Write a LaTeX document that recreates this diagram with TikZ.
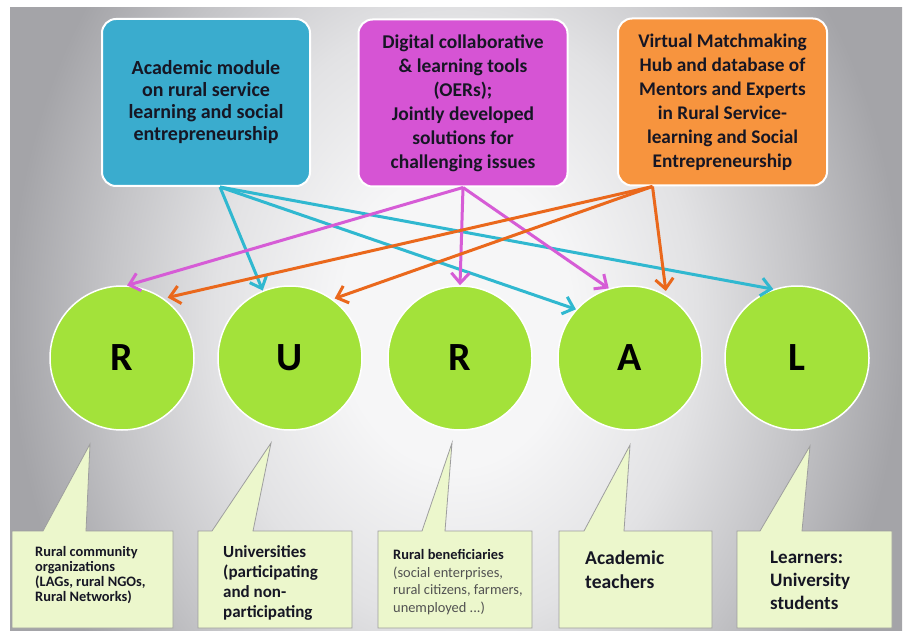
\documentclass[tikz,border=0pt]{standalone}
\usepackage{fontspec}
\setmainfont{Carlito}
\usetikzlibrary{arrows.meta}
\definecolor{boxblue}{RGB}{58,172,206}
\definecolor{boxmag}{RGB}{214,84,212}
\definecolor{boxor}{RGB}{247,148,62}
\definecolor{circ}{RGB}{163,226,58}
\definecolor{callfill}{RGB}{236,247,204}
\definecolor{acyan}{RGB}{48,184,208}
\definecolor{amag}{RGB}{214,92,214}
\definecolor{aor}{RGB}{234,104,28}
\definecolor{txt}{RGB}{22,22,36}
\definecolor{bgA}{RGB}{246,246,247}
\definecolor{bgB}{RGB}{226,226,228}
\definecolor{bgC}{RGB}{196,196,199}
\definecolor{bgD}{RGB}{164,164,168}
\pgfdeclareradialshading{bgshade}{\pgfpoint{0bp}{0bp}}{color(0bp)=(bgA); color(13bp)=(bgA); color(27bp)=(bgB); color(39bp)=(bgC); color(50bp)=(bgD); color(80bp)=(bgD)}
\tikzset{
  topbox/.style={draw=white, line width=2pt, rounded corners=14pt, minimum height=167pt, inner sep=0pt, align=center, text=txt},
  letter/.style={circle, fill=circ, draw=white, line width=1.5pt, minimum size=144pt, inner sep=0pt, font=\bfseries\fontsize{40}{40}\selectfont, text=black},
  callout/.style={fill=callfill, draw=black!38, line width=0.8pt, line join=miter},
  ctext/.style={anchor=west, align=left, inner sep=0pt, text=txt},
  arr/.style={line width=3pt, -{Straight Barb[length=10pt,width=18pt]}}
}
\begin{document}
\begin{tikzpicture}[x=1pt,y=-1pt]
\useasboundingbox (0,0) rectangle (907,631);
\begin{scope}
  \clip (10,8) rectangle (902,631);
  \pgftransformshift{\pgfpoint{456pt}{-320pt}}
  \pgftransformxscale{8.9}
  \pgftransformyscale{11.2}
  \pgflowlevelsynccm
  \pgfuseshading{bgshade}
\end{scope}

% top boxes
\node[topbox, fill=boxblue, minimum width=208pt, font=\bfseries\fontsize{20}{22}\selectfont] (acad) at (206,102.5)
  {Academic module\\on rural service\\learning and social\\entrepreneurship};
\node[topbox, fill=boxmag, minimum width=209pt, font=\bfseries\fontsize{19.5}{24}\selectfont] (tools) at (463,103)
  {Digital collaborative\\\& learning tools\\(OERs);\\Jointly developed\\solutions for\\challenging issues};
\node[topbox, fill=boxor, minimum width=209pt, font=\bfseries\fontsize{19.3}{24}\selectfont] (hub) at (722.5,102)
  {Virtual Matchmaking\\Hub and database of\\Mentors and Experts\\in Rural Service-\\learning and Social\\Entrepreneurship};

% circles
\node[letter] (c1) at (122,358) {R};
\node[letter] (c2) at (290,358) {U};
\node[letter] (c3) at (460,358) {R};
\node[letter] (c4) at (630,358) {A};
\node[letter] (c5) at (797,358) {L};

% arrows
\draw[arr, acyan] ([xshift=14pt]acad.south) -- (c2.112);
\draw[arr, acyan] ([xshift=14pt]acad.south) -- (c4.138);
\draw[arr, acyan] ([xshift=14pt]acad.south) -- (c5.109);
\draw[arr, amag] (tools.south) -- (c1.86);
\draw[arr, amag] (tools.south) -- (c3.90);
\draw[arr, amag] (tools.south) -- (c4.107);
\draw[arr, aor, shorten >=4pt] ([xshift=-70pt]hub.south) -- (c1.55);
\draw[arr, aor, shorten >=2pt] ([xshift=-70pt]hub.south) -- (c2.54);
\draw[arr, aor, shorten >=4pt] ([xshift=-70pt]hub.south) -- (c4.60);

% callouts
\path[callout] (12,531) -- (43,531) -- (90,444) -- (86,531) -- (173,531) -- (173,628) -- (12,628) -- cycle;
\path[callout] (198,531) -- (212,531) -- (271,443) -- (253,531) -- (352,531) -- (352,628) -- (198,628) -- cycle;
\path[callout] (378,531) -- (422,531) -- (452,443) -- (445,531) -- (532,531) -- (532,628) -- (378,628) -- cycle;
\path[callout] (559,531) -- (584,531) -- (630,445) -- (624,531) -- (712,531) -- (712,628) -- (559,628) -- cycle;
\path[callout] (737,531) -- (760,531) -- (810,446) -- (802,531) -- (892,531) -- (892,628) -- (737,628) -- cycle;

\node[ctext, font=\bfseries\fontsize{14.4}{15}\selectfont] (t1) at (35,575.5)
  {Rural community\\organizations\\(LAGs, rural NGOs,\\Rural Networks)};
\node[ctext, font=\bfseries\fontsize{17}{20}\selectfont] (t2) at (223,583)
  {Universities\\(participating\\and non-\\participating};
\node[ctext, font=\fontsize{14.4}{17.5}\selectfont, text=black!68] (t3) at (393,582)
  {{\bfseries\color{txt}Rural beneficiaries}\\(social enterprises,\\rural citizens, farmers,\\unemployed ...)};
\node[ctext, font=\bfseries\fontsize{19.6}{24}\selectfont] (t4) at (585,570)
  {Academic\\teachers};
\node[ctext, font=\bfseries\fontsize{19}{23}\selectfont] (t5) at (770,580)
  {Learners:\\University\\students};
\end{tikzpicture}
\end{document}
